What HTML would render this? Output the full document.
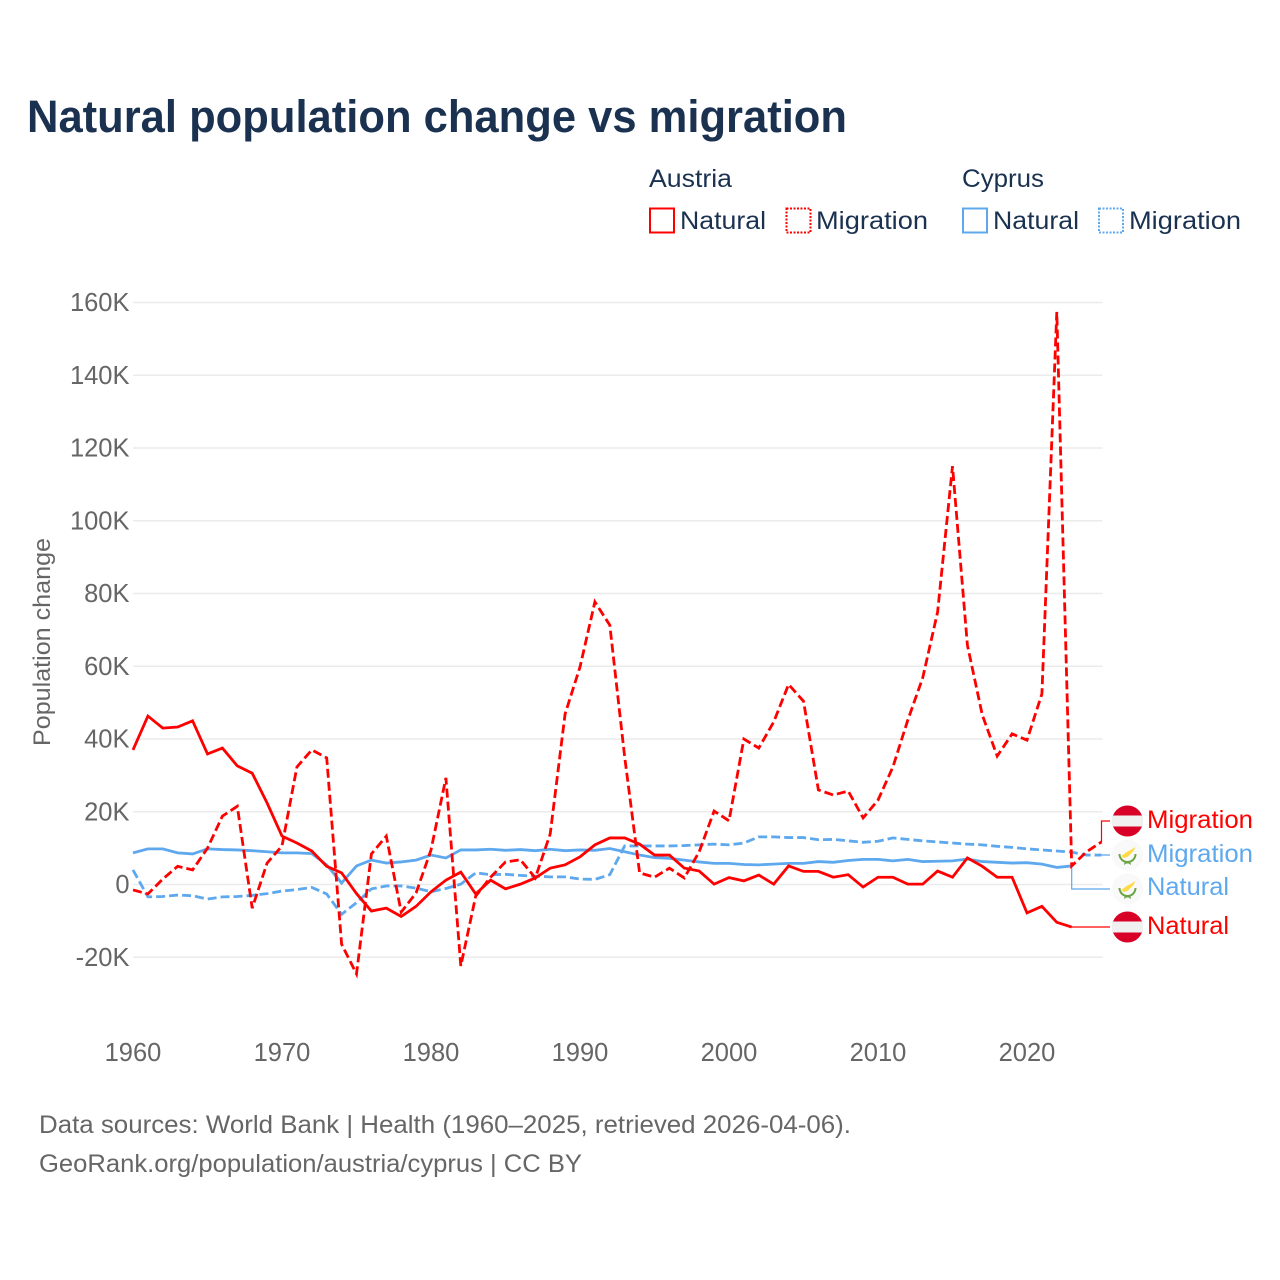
<!DOCTYPE html>
<html lang="en">
<head>
<meta charset="utf-8">
<title>Natural population change vs migration</title>
<style>
html,body{margin:0;padding:0;background:#fff;}
svg{display:block;font-family:"Liberation Sans",sans-serif;}
</style>
</head>
<body>
<svg id="chart" xmlns="http://www.w3.org/2000/svg" width="1280" height="1280" viewBox="0 0 1280 1280">
  <rect x="0" y="0" width="1280" height="1280" fill="#fff"/>
  <text x="27" y="132" font-size="45" font-weight="700" fill="#1a3150" textLength="820" lengthAdjust="spacingAndGlyphs">Natural population change vs migration</text>

  <g font-size="25" fill="#1a3150">
    <text x="649" y="187" textLength="83" lengthAdjust="spacingAndGlyphs">Austria</text>
    <text x="962" y="187" textLength="82" lengthAdjust="spacingAndGlyphs">Cyprus</text>
    <g>
      <rect x="650" y="208.500" width="24" height="24" fill="none" stroke="#ff0000" stroke-width="2"/>
      <text x="680" y="229" textLength="86" lengthAdjust="spacingAndGlyphs">Natural</text>
    </g>
    <g>
      <rect x="786.500" y="208.500" width="24" height="24" fill="none" stroke="#ff0000" stroke-width="2" stroke-dasharray="2 1.500"/>
      <text x="816" y="229" textLength="112" lengthAdjust="spacingAndGlyphs">Migration</text>
    </g>
    <g>
      <rect x="963" y="208.500" width="24" height="24" fill="none" stroke="#5ea8ee" stroke-width="2"/>
      <text x="993" y="229" textLength="86" lengthAdjust="spacingAndGlyphs">Natural</text>
    </g>
    <g>
      <rect x="1099" y="208.500" width="24" height="24" fill="none" stroke="#5ea8ee" stroke-width="2" stroke-dasharray="2 1.500"/>
      <text x="1129" y="229" textLength="112" lengthAdjust="spacingAndGlyphs">Migration</text>
    </g>
  </g>

  <text transform="translate(50,746) rotate(-90)" x="0" y="0" font-size="24" fill="#666666" textLength="208" lengthAdjust="spacingAndGlyphs">Population change</text>

  <g id="grid"></g>
  <g id="yticks"></g>
  <g id="xticks"></g>
  <g id="connectors"></g>
  <g id="series"></g>

  <g>
    <g transform="translate(1127.500,821)">
      <circle r="15.500" fill="#d80027"/><rect x="-15.500" y="-5.500" width="31" height="11" fill="#f0f0f0"/>
    </g>
    <text x="1147" y="828" font-size="25" fill="#ff0000" textLength="106" lengthAdjust="spacingAndGlyphs">Migration</text>
  </g>
  <g>
    <g transform="translate(1127.500,855)">
      <circle r="15.500" fill="#f9f9f9"/>
      <path d="M-6 1 L-1 -3 L3 -5 L8 -8 L6 -4 L3 -1 L0 2 L-4 3 Z" fill="#ffda44"/>
      <path d="M-9 -1 A9 9 0 0 0 -3 7.500 L-3.500 10 L-1 8.500 L1 8.500 L3.500 10 L3 7.500 A9 9 0 0 0 9 -1 L7 -1 A7 7 0 0 1 -7 -1 Z" fill="#6da544"/>
    </g>
    <text x="1147" y="862" font-size="25" fill="#5ea8ee" textLength="106" lengthAdjust="spacingAndGlyphs">Migration</text>
  </g>
  <g>
    <g transform="translate(1127.500,889)">
      <circle r="15.500" fill="#f9f9f9"/>
      <path d="M-6 1 L-1 -3 L3 -5 L8 -8 L6 -4 L3 -1 L0 2 L-4 3 Z" fill="#ffda44"/>
      <path d="M-9 -1 A9 9 0 0 0 -3 7.500 L-3.500 10 L-1 8.500 L1 8.500 L3.500 10 L3 7.500 A9 9 0 0 0 9 -1 L7 -1 A7 7 0 0 1 -7 -1 Z" fill="#6da544"/>
    </g>
    <text x="1147" y="895" font-size="25" fill="#5ea8ee" textLength="82" lengthAdjust="spacingAndGlyphs">Natural</text>
  </g>
  <g>
    <g transform="translate(1127.500,927)">
      <circle r="15.500" fill="#d80027"/><rect x="-15.500" y="-5.500" width="31" height="11" fill="#f0f0f0"/>
    </g>
    <text x="1147" y="934" font-size="25" fill="#ff0000" textLength="82" lengthAdjust="spacingAndGlyphs">Natural</text>
  </g>

  <text x="39" y="1133" font-size="25" fill="#666666" textLength="812" lengthAdjust="spacingAndGlyphs">Data sources: World Bank | Health (1960–2025, retrieved 2026-04-06).</text>
  <text x="39" y="1172" font-size="25" fill="#666666" textLength="543" lengthAdjust="spacingAndGlyphs">GeoRank.org/population/austria/cyprus | CC BY</text>
</svg>
<script>
var firstYear = 1960;
var yTickValues = [-20, 0, 20, 40, 60, 80, 100, 120, 140, 160];
var yTickLabels = ['-20K', '0', '20K', '40K', '60K', '80K', '100K', '120K', '140K', '160K'];
var xTickYears = [1960, 1970, 1980, 1990, 2000, 2010, 2020];

var austriaNatural = [37, 46.3, 43, 43.3, 45, 35.9, 37.5, 32.6, 30.6, 22.4, 13.3, 11.4, 9.2, 5, 3.2, -2.5, -7.3, -6.5, -8.8, -6, -2, 1.2, 3.4, -2.6, 1.2, -1.2, 0.1, 1.8, 4.5, 5.4, 7.6, 10.9, 12.8, 12.8, 11.1, 8.1, 8.1, 4.5, 3.7, 0.1, 1.9, 1, 2.6, 0.1, 5.1, 3.6, 3.6, 2, 2.7, -0.7, 2, 2, 0.1, 0.1, 3.7, 2, 7.3, 5, 2, 2, -7.8, -6, -10.4, -11.7];
var austriaMigration = [-1.5, -2.6, 1.5, 5, 4, 10, 18.8, 21.5, -6.5, 5.9, 10.6, 32.3, 37, 34.8, -16.4, -24.6, 8.4, 13.3, -7.6, -2.3, 9.5, 29.3, -22.4, -3.2, 2, 6.2, 6.8, 1.8, 13.9, 46.9, 59.8, 77.7, 71.3, 35, 3.2, 2, 4.5, 1.8, 9, 20.2, 17.5, 40, 37.5, 44.7, 55, 50.4, 26, 24.6, 25.7, 18.3, 23.2, 32.3, 45.2, 56.8, 74.9, 115, 65.8, 46.6, 35.3, 41.4, 39.7, 52.4, 157.4, 5.1, 9, 11.7];
var cyprusNatural = [8.7, 9.8, 9.8, 8.7, 8.4, 9.8, 9.6, 9.5, 9.3, 9, 8.7, 8.7, 8.5, 5.4, 0.4, 5.1, 6.7, 5.9, 6.2, 6.7, 8.1, 7.3, 9.5, 9.5, 9.7, 9.4, 9.6, 9.3, 9.7, 9.3, 9.5, 9.4, 9.9, 9, 8.1, 7.4, 7.2, 6.7, 6.2, 5.8, 5.8, 5.5, 5.4, 5.6, 5.8, 5.8, 6.3, 6.1, 6.6, 6.9, 6.9, 6.5, 6.9, 6.3, 6.4, 6.5, 7, 6.3, 6.1, 5.9, 6, 5.6, 4.7, 5.1];
var cyprusMigration = [4, -3.4, -3.3, -2.9, -3.1, -4, -3.4, -3.3, -3, -2.5, -1.8, -1.4, -0.8, -2.6, -8.2, -5, -1.2, -0.4, -0.4, -1, -2, -1.1, 0.1, 3.2, 2.7, 2.8, 2.5, 2.3, 2.1, 2.1, 1.5, 1.4, 2.7, 10.6, 10.6, 10.6, 10.6, 10.7, 10.9, 11.1, 10.9, 11.4, 13.1, 13.1, 12.9, 12.9, 12.3, 12.4, 12, 11.6, 11.9, 12.8, 12.4, 12, 11.7, 11.4, 11.1, 10.9, 10.5, 10.2, 9.8, 9.5, 9.2, 8.9, 8.1, 8.1];

var SVG_NS = 'http://www.w3.org/2000/svg';
function xScale(year) { return 133 + (year - 1960) * 14.9; }
function yScale(value) { return 884.5 - value * (582 / 160); }

function make(tag, parentId) {
  var el = document.createElementNS(SVG_NS, tag);
  document.getElementById(parentId).appendChild(el);
  return el;
}

function pointsFor(values) {
  return values.map(function (v, i) {
    return xScale(firstYear + i).toFixed(2) + ',' + yScale(v).toFixed(2);
  }).join(' ');
}

yTickValues.forEach(function (v, i) {
  var line = make('line', 'grid');
  
  
  line.setAttribute('x1', xScale(1960));
  line.setAttribute('x2', '1102.5');
  line.setAttribute('y1', yScale(v));
  line.setAttribute('y2', yScale(v));
  line.setAttribute('stroke', '#ebebeb');
  line.setAttribute('stroke-width', '1.5');

  var label = make('text', 'yticks');
  
  
  label.setAttribute('x', '129.5');
  label.setAttribute('y', yScale(v) + 8.5);
  label.setAttribute('text-anchor', 'end');
  label.setAttribute('font-size', '25.5');
  label.setAttribute('fill', '#666666');
  label.textContent = yTickLabels[i];
});

xTickYears.forEach(function (year) {
  var label = make('text', 'xticks');
  
  
  label.setAttribute('x', xScale(year));
  label.setAttribute('y', '1061');
  label.setAttribute('text-anchor', 'middle');
  label.setAttribute('font-size', '25.5');
  label.setAttribute('fill', '#666666');
  label.textContent = String(year);
});

function lastPoint(values) {
  var i = values.length - 1;
  return { x: xScale(firstYear + i), y: yScale(values[i]) };
}

function connector(values, labelY, color) {
  var p = lastPoint(values);
  var path = make('polyline', 'connectors');
  
  
  path.setAttribute('points', p.x + ',' + p.y + ' ' + p.x + ',' + labelY + ' 1110,' + labelY);
  path.setAttribute('fill', 'none');
  path.setAttribute('stroke', color);
  path.setAttribute('stroke-width', '1.2');
}
connector(austriaMigration, 821, '#ff0000');
connector(cyprusMigration, 855, '#5ea8ee');
connector(cyprusNatural, 889, '#5ea8ee');
connector(austriaNatural, 927, '#ff0000');

var blueNatural = make('polyline', 'series');


blueNatural.setAttribute('points', pointsFor(cyprusNatural));
blueNatural.setAttribute('fill', 'none');
blueNatural.setAttribute('stroke', '#5ea8ee');
blueNatural.setAttribute('stroke-width', '2.8');

var blueMigration = make('polyline', 'series');


blueMigration.setAttribute('points', pointsFor(cyprusMigration));
blueMigration.setAttribute('fill', 'none');
blueMigration.setAttribute('stroke', '#5ea8ee');
blueMigration.setAttribute('stroke-width', '2.8');
blueMigration.setAttribute('stroke-dasharray', '9 4');

var redNatural = make('polyline', 'series');


redNatural.setAttribute('points', pointsFor(austriaNatural));
redNatural.setAttribute('fill', 'none');
redNatural.setAttribute('stroke', '#ff0000');
redNatural.setAttribute('stroke-width', '2.8');

var redMigration = make('polyline', 'series');


redMigration.setAttribute('points', pointsFor(austriaMigration));
redMigration.setAttribute('fill', 'none');
redMigration.setAttribute('stroke', '#ff0000');
redMigration.setAttribute('stroke-width', '2.8');
redMigration.setAttribute('stroke-dasharray', '9 4');
</script>
</body>
</html>
